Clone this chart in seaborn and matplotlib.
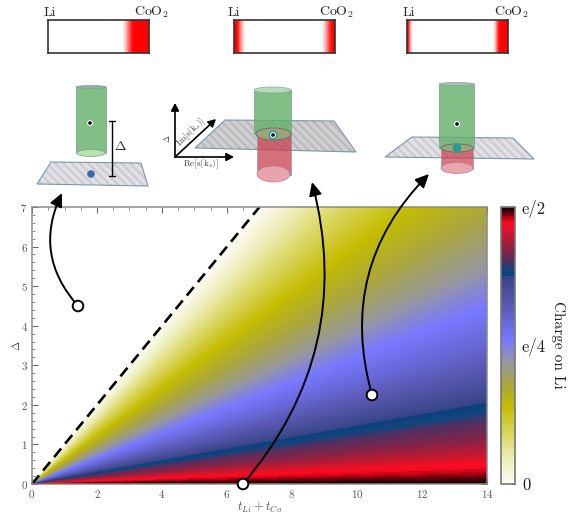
import numpy as np
import matplotlib
matplotlib.use('Agg')
import matplotlib.pyplot as plt
import seaborn as sns
from matplotlib.colors import LinearSegmentedColormap
from matplotlib.patches import Ellipse, FancyArrowPatch, Polygon, Rectangle, Circle

W, H = 578, 519

ratios = [0, .004, .01, .02, .03, .04, .052, .078, .115, .143, .2, .26, .32, .4, .5, .6, .7, .8, .9, 1]
charges = [.5, .495, .49, .48, .4725, .465, .45, .425, .4, .3775, .33, .29, .26, .215, .175, .14, .1, .065, .03, 0]

t_range = [0, 14]
ref_line = [0, 7]

# colorbar stops, position along 0..e/2 and colour
cbar_pos = [0, .1, .28, .36, .44, .52, .65, .745, .75, .78, .80, .85, .90, .945, .97, 1]
cbar_col = ['#fdfdf8', '#ecebb0', '#c4bc00', '#aaa640', '#9696a0', '#7878ff', '#5858b0', '#3a4688',
            '#0d3f7e', '#12457c', '#4c3064', '#8a2244', '#c8182e', '#ff0a20', '#90000f', '#000000']

strip_low = [0] * 73 + [.03, .08, .15, .24, .34, .45, .56, .67, .78, .87, .94, .98] + [1] * 15
strip_mid = [1] * 3 + [.92, .8, .65, .5, .36, .24, .14, .07, .03] + [0] * 75 + \
    [.05, .12, .2, .3, .42, .55, .67, .78, .86, .93, .98] + [1] * 2
strip_high = [1, .85, .6, .35, .15, .05] + [0] * 79 + [.05, .15, .3, .5, .7, .85, .95] + [1] * 8

sns.set_style('white')
plt.rcParams['font.family'] = ['cmr10', 'DejaVu Serif']
plt.rcParams['mathtext.fontset'] = 'cm'
plt.rcParams['axes.formatter.use_mathtext'] = True
plt.rcParams['hatch.linewidth'] = 1.6


def px_axes(x0, y0, x1, y1):
    return fig.add_axes([x0 / W, 1 - y1 / H, (x1 - x0) / W, (y1 - y0) / H])


fig = plt.figure(figsize=(W / 100, H / 100), dpi=100)

# main panel
ax = px_axes(32, 207, 487, 484)
r = np.array(ratios)
T = np.column_stack([r * 0 + t_range[0], r * 0 + t_range[1]])
D = T * r[:, None]
Q = np.column_stack([charges, charges])
cmap = LinearSegmentedColormap.from_list('li', list(zip(cbar_pos, cbar_col)), N=512)
cs = ax.contourf(T, D, Q, levels=np.linspace(0, .5, 121), cmap=cmap, vmin=0, vmax=.5)
sns.lineplot(x=ref_line, y=ref_line, ax=ax, color='black', lw=1.9, linestyle=(0, (4.2, 2.4)))
ax.set_xlim(0, 14)
ax.set_ylim(0, 7)
ax.set_xticks(np.arange(0, 15, 2))
ax.set_yticks(np.arange(0, 8, 1))
ax.set_xticks(np.arange(0, 14.1, .5), minor=True)
ax.set_yticks(np.arange(0, 7.01, .2), minor=True)
ax.tick_params(which='major', direction='in', length=4, width=.8, color='#666666',
               labelcolor='#555555', labelsize=8, top=True, right=True, bottom=True, left=True, pad=3)
ax.tick_params(which='minor', direction='in', length=2, width=.6, color='#777777',
               top=True, right=True, bottom=True, left=True)
for s in ax.spines.values():
    s.set_color('#8a8a8a')
    s.set_linewidth(1.1)
ax.set_xlabel('$t_{Li}+t_{Co}$', fontsize=9, color='#555555', labelpad=0)
ax.set_ylabel(r'$\Delta$', fontsize=8, color='#555555', labelpad=-1)

# colorbar
cax = px_axes(501, 207, 515, 484)
cbar = fig.colorbar(cs, cax=cax)
cbar.set_ticks([0, .25, .5])
cbar.set_ticklabels(['0', 'e/4', 'e/2'])
cbar.set_ticks(np.arange(0, .501, .025), minor=True)
cbar.ax.tick_params(which='major', direction='in', length=3, width=.7, color='#444444', labelsize=12,
                    labelcolor='#222222', pad=5)
cbar.ax.tick_params(which='minor', direction='in', length=1.5, width=.5, color='#444444')
cbar.outline.set_edgecolor('#777777')
cbar.outline.set_linewidth(1.2)

# occupation strips on top
red_cmap = LinearSegmentedColormap.from_list('strip', ['#ffffff', '#ff0000'])
for x0, vals in zip([48, 234, 407], [strip_low, strip_mid, strip_high]):
    sax = px_axes(x0, 20, x0 + 101, 53)
    sns.heatmap([vals], ax=sax, cmap=red_cmap, vmin=0, vmax=1, cbar=False, xticklabels=False, yticklabels=False)
    for s in sax.spines.values():
        s.set_visible(True)
        s.set_color('#333333')
        s.set_linewidth(1.2)

# overlay in pixel coordinates for the schematics and arrows
ov = fig.add_axes([0, 0, 1, 1], facecolor='none')
ov.set_xlim(0, W)
ov.set_ylim(H, 0)
ov.axis('off')

for x_li, x_co in [(44, 134), (228, 319), (403, 494)]:
    ov.text(x_li, 12.5, 'Li', fontsize=10, ha='left', va='center', color='#222222')
    ov.text(x_co, 12.5, r'$\mathrm{CoO}_2$', fontsize=10, ha='left', va='center', color='#222222')

EDGE = '#7f96aa'
GREEN = '#62b068'
RED = '#c8404f'


def plane(corners, face='#e0e0e6', stripe='#cbcbd1'):
    ov.add_patch(Polygon(corners, closed=True, facecolor=face, edgecolor=stripe, hatch='\\\\\\\\', lw=0))
    ov.add_patch(Polygon(corners, closed=True, fill=False, edgecolor=EDGE, lw=.8))


def dot(x, y):
    ov.add_patch(Circle((x, y), 2.2, color='white', zorder=6))
    ov.add_patch(Circle((x, y), 1.1, color='black', zorder=7))


# left schematic: gapped
plane([(51, 162), (141, 163), (148, 186), (37, 184)])
ov.add_patch(Circle((91, 174), 3.4, color='#3d63b4', ec='#3a8a90', lw=.6))
ov.add_patch(Rectangle((76, 87), 30, 66, fc=GREEN, alpha=.8, ec='#7f9c9c', lw=.7))
ov.add_patch(Ellipse((91, 87), 30, 3, fc='#8fb0a0', ec='#7f9c9c', lw=.5))
ov.add_patch(Ellipse((91, 153), 28, 7, fc='#b8e0b0', ec='#7f9c9c', lw=.5))
dot(90, 123)
ov.plot([112, 112], [121, 176], color='black', lw=1)
ov.plot([109, 115], [121, 121], color='black', lw=1)
ov.plot([109, 115], [176, 176], color='black', lw=1)
ov.text(120, 147, r'$\Delta$', fontsize=10, ha='center', va='center', color='#333333')

# middle schematic: symmetric
plane([(225, 120), (334, 121), (356, 152), (195, 148)], face='#cfcfd2', stripe='#bababd')
ov.add_patch(Rectangle((257, 134), 34, 41, fc=RED, alpha=.75, ec='#9a9aa5', lw=.7))
ov.add_patch(Ellipse((273.5, 174), 33, 16, fc='#e8a4ac', ec='#b08088', lw=.5))
ov.add_patch(Rectangle((254, 90), 37, 44, fc=GREEN, alpha=.8, ec='#7f9c9c', lw=.7))
ov.add_patch(Ellipse((272.5, 90), 37, 6, fc='#b4dcb8', ec='#8fa6a6', lw=.5))
ov.add_patch(Ellipse((273.5, 134), 35, 12, fc='#a0a478', ec='#5f7a6a', lw=.7))
ov.add_patch(Circle((273, 135), 3.8, color='#2aa0a0', zorder=5))
dot(273, 135)

# axes arrows of the middle schematic
for tip in [(175, 103), (234, 157), (216, 119)]:
    ov.add_patch(FancyArrowPatch((175, 157), tip, arrowstyle='-|>,head_length=4.5,head_width=2.4', color='black',
                                 lw=1.2, shrinkA=0, shrinkB=0, mutation_scale=1))
ov.text(201, 164, r'$\mathrm{Re}[\mathrm{s}(\mathrm{k}_s)]$', fontsize=6.5, ha='center', va='center', color='#444444')
ov.text(191, 133, r'$\mathrm{Im}[\mathrm{s}(\mathrm{k}_s)]$', fontsize=6.5, ha='center', va='center', rotation=45,
        color='#444444')
ov.text(167, 139, r'$\Delta$', fontsize=6, ha='center', va='center', rotation=90, color='#444444')

# right schematic
plane([(412, 137), (513, 138), (534, 159), (385, 157)])
ov.add_patch(Rectangle((441, 148), 32, 21, fc=RED, alpha=.72, ec='#9a9aa5', lw=.7))
ov.add_patch(Ellipse((457, 168), 32, 11, fc='#eaa6ae', ec='#b08088', lw=.5))
ov.add_patch(Rectangle((439, 84), 35, 64, fc=GREEN, alpha=.8, ec='#7f9c9c', lw=.7))
ov.add_patch(Ellipse((456.5, 84), 35, 3, fc='#a0c4ac', ec='#8fa6a6', lw=.5))
ov.add_patch(Ellipse((457, 148), 32, 8, fc='#a0a478', ec='#5f7a6a', lw=.7))
ov.add_patch(Ellipse((457, 148), 7, 8, color='#2a9a90', zorder=5))
dot(457, 124)

# curved arrows from the phase diagram up to the schematics
for start, tip, rad in [((78, 306), (62, 193), -.33), ((243, 484), (312, 182), .26), ((372, 395), (429, 174), -.29)]:
    ov.add_patch(FancyArrowPatch(start, tip, connectionstyle=f'arc3,rad={rad}', color='black', lw=1.4,
                                 arrowstyle='-|>,head_length=8,head_width=3.8', mutation_scale=1,
                                 shrinkA=0, shrinkB=0, zorder=8))
    ov.add_patch(Circle(start, 5.3, fc='white', ec='black', lw=1.4, zorder=9, clip_on=False))

ov.text(558, 345, 'Charge on Li', fontsize=11, rotation=-90, ha='center', va='center', color='#222222')

fig.savefig('out.png', dpi=100)
